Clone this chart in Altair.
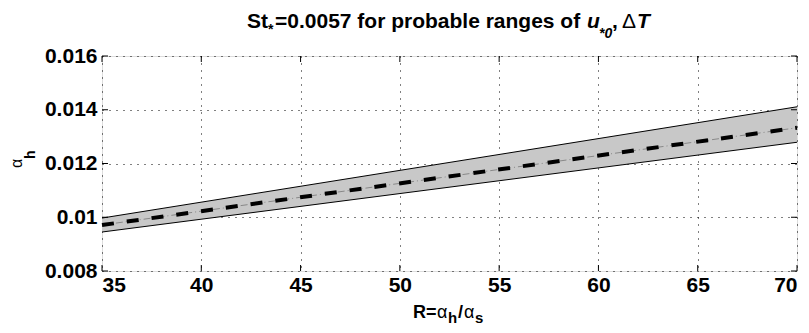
import altair as alt
import pandas as pd

R = [35, 70]
upper = [0.00997, 0.01411]
lower = [0.00945, 0.01279]
center = [0.00971, 0.01333]

x_ticks = [35, 40, 45, 50, 55, 60, 65, 70]
y_ticks = [0.008, 0.010, 0.012, 0.014, 0.016]

df = pd.DataFrame({"R": R, "upper": upper, "lower": lower, "center": center})

FONT = "Liberation Sans"
W, H = 695, 215

xs = alt.Scale(domain=[35, 70], nice=False, zero=False)
ys = alt.Scale(domain=[0.008, 0.016], nice=False, zero=False)

xaxis = alt.Axis(values=x_ticks, format="d", grid=True, gridColor="black", gridDash=[1, 6],
                 gridOpacity=1, gridWidth=1, tickSize=0, domain=False,
                 labelFont=FONT, labelFontSize=21, labelFontWeight="bold", labelColor="black",
                 labelPadding=3, title="")
yaxis = alt.Axis(values=y_ticks, format=".3~f", grid=True, gridColor="black", gridDash=[1, 6],
                 gridOpacity=1, gridWidth=1, tickSize=0, domain=False,
                 labelFont=FONT, labelFontSize=21, labelFontWeight="bold", labelColor="black",
                 labelPadding=5, title="")

base = alt.Chart(df)

band = base.mark_area(color="#c8c8c8", opacity=1).encode(
    x=alt.X("R:Q", scale=xs, axis=xaxis),
    y=alt.Y("lower:Q", scale=ys, axis=yaxis),
    y2="upper:Q",
)
up_line = base.mark_line(color="black", strokeWidth=1).encode(
    x=alt.X("R:Q", scale=xs), y=alt.Y("upper:Q", scale=ys))
lo_line = base.mark_line(color="black", strokeWidth=1).encode(
    x=alt.X("R:Q", scale=xs), y=alt.Y("lower:Q", scale=ys))
c_thick = base.mark_line(color="black", strokeWidth=4, strokeDash=[12, 13]).encode(
    x=alt.X("R:Q", scale=xs), y=alt.Y("center:Q", scale=ys))
c_thin = base.mark_line(color="#888888", strokeWidth=1, strokeDash=[7, 3, 1, 3]).encode(
    x=alt.X("R:Q", scale=xs), y=alt.Y("center:Q", scale=ys))

xt = pd.DataFrame({"t": x_ticks})
yt = pd.DataFrame({"t": y_ticks})
tick_b = alt.Chart(xt).mark_rule(color="black", strokeWidth=1).encode(
    x=alt.X("t:Q", scale=xs), y=alt.value(H), y2=alt.value(H - 6))
tick_t = alt.Chart(xt).mark_rule(color="black", strokeWidth=1).encode(
    x=alt.X("t:Q", scale=xs), y=alt.value(0), y2=alt.value(6))
tick_l = alt.Chart(yt).mark_rule(color="black", strokeWidth=1).encode(
    y=alt.Y("t:Q", scale=ys), x=alt.value(0), x2=alt.value(6))
tick_r = alt.Chart(yt).mark_rule(color="black", strokeWidth=1).encode(
    y=alt.Y("t:Q", scale=ys), x=alt.value(W), x2=alt.value(W - 6))

dummy = pd.DataFrame({"d": [0]})


def piece(text, x, y, size, weight="bold", style="normal", angle=0):
    return alt.Chart(dummy).mark_text(
        text=text, font=FONT, fontSize=size, fontWeight=weight, fontStyle=style,
        align="left", baseline="alphabetic", angle=angle, color="black",
    ).encode(x=alt.value(x), y=alt.value(y))


title_parts = [
    piece("St", 145, -28, 21),
    piece("*", 166, -22, 14),
    piece("=0.0057 for probable ranges of", 173, -28, 21),
    piece("u", 485, -28, 21, style="italic"),
    piece("*0", 497, -18, 14, style="italic"),
    piece(",", 510, -28, 21),
    piece("Δ", 520, -28, 21, weight="normal"),
    piece("T", 535, -28, 21, style="italic"),
]
xtitle_parts = [
    piece("R=", 311, 262, 18),
    piece("α", 335, 262, 18, weight="normal"),
    piece("h", 346, 267, 15),
    piece("/", 356, 262, 18),
    piece("α", 362, 262, 18, weight="normal"),
    piece("s", 373, 267, 15),
]
ytitle_parts = [
    piece("α", -80, 112, 16, weight="normal", angle=270),
    piece("h", -67, 103, 14, angle=270),
]

chart = alt.layer(band, up_line, lo_line, c_thin, c_thick, tick_b, tick_t, tick_l, tick_r,
                  *title_parts, *xtitle_parts, *ytitle_parts).properties(
    width=W, height=H,
    autosize=alt.AutoSizeParams(type="none"),
    padding={"left": 94, "top": 48, "right": 4, "bottom": 54},
).configure_view(stroke="black", strokeWidth=1.5).configure(background="white")

chart.save("out.html", embed_options={"renderer": "svg", "actions": False})
